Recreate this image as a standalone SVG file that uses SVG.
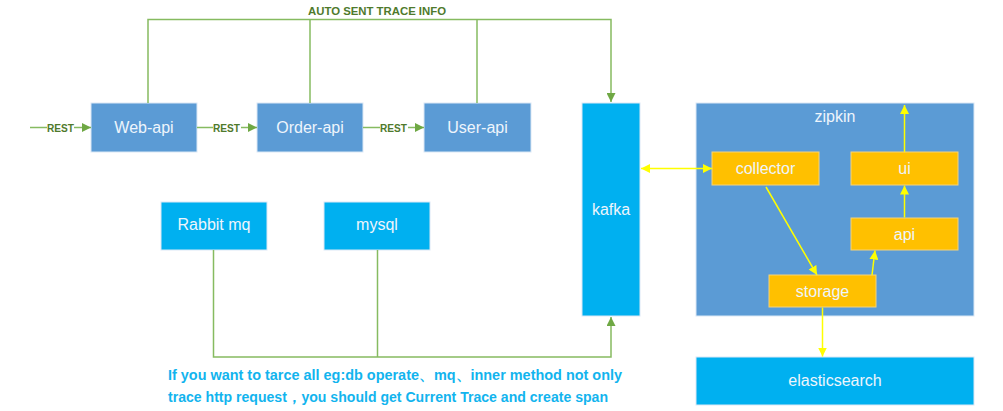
<svg xmlns="http://www.w3.org/2000/svg" width="1003" height="411" viewBox="0 0 1003 411">
<style>
.box{stroke:#dbe8f5;stroke-width:1}
.blue{fill:#5b9bd5}
.cyan{fill:#00b0f0}
.org{fill:#ffc000;stroke:#f5d37a;stroke-width:1}
.lbl{font-family:"Liberation Sans",Arial,sans-serif;font-size:16px;fill:#eef5fc;text-anchor:middle}
.g{fill:none;stroke:#86bb60;stroke-width:1.5}
.y{fill:none;stroke:#ffff00;stroke-width:1.5}
.rest{font-family:"Liberation Sans",Arial,sans-serif;font-size:11px;font-weight:bold;fill:#4f7a2c}
.note{font-family:"Liberation Sans",Arial,sans-serif;font-size:14.5px;font-weight:bold;fill:#12b4ee}
</style>
<defs>
<marker id="gb" viewBox="0 0 10 10" refX="10" refY="5" markerWidth="9" markerHeight="9" orient="auto" markerUnits="userSpaceOnUse">
<path d="M0,0 L10,5 L0,10 z" fill="#6fa844"/>
</marker>
<marker id="ya" viewBox="0 0 10 10" refX="10" refY="5" markerWidth="9" markerHeight="9" orient="auto-start-reverse" markerUnits="userSpaceOnUse">
<path d="M0,0 L10,5 L0,10 z" fill="#ffff00"/>
</marker>
</defs>
<rect width="1003" height="411" fill="#ffffff"/>

<g id="web-api"><rect class="box blue" x="91" y="103" width="106" height="49"/><text class="lbl" x="144" y="133">Web-api</text></g>
<g id="order-api"><rect class="box blue" x="257" y="103" width="106" height="49"/><text class="lbl" x="310" y="133">Order-api</text></g>
<g id="user-api"><rect class="box blue" x="424" y="103" width="107" height="49"/><text class="lbl" x="477.5" y="133">User-api</text></g>
<g id="rabbit-mq"><rect class="box cyan" x="161" y="202" width="106" height="48"/><text class="lbl" x="214" y="230">Rabbit mq</text></g>
<g id="mysql"><rect class="box cyan" x="324" y="202" width="106" height="48"/><text class="lbl" x="377" y="230">mysql</text></g>
<g id="kafka"><rect class="box cyan" x="582" y="103" width="58" height="213"/><text class="lbl" x="611" y="215">kafka</text></g>
<g id="zipkin"><rect class="box blue" x="696" y="103" width="278" height="213"/><text class="lbl" x="835" y="122">zipkin</text></g>
<g id="collector"><rect class="org" x="712" y="152" width="107" height="33"/><text class="lbl" x="765.5" y="174">collector</text></g>
<g id="ui"><rect class="org" x="851" y="152" width="107" height="33"/><text class="lbl" x="904.5" y="174">ui</text></g>
<g id="api"><rect class="org" x="851" y="218" width="107" height="32"/><text class="lbl" x="904.5" y="240">api</text></g>
<g id="storage"><rect class="org" x="769" y="275" width="107" height="32"/><text class="lbl" x="822.5" y="297">storage</text></g>
<g id="elasticsearch"><rect class="box cyan" x="696" y="357" width="278" height="48"/><text class="lbl" x="835" y="386">elasticsearch</text></g>

<g id="connectors">
<polyline class="g" points="148,103 148,19.5 611,19.5 611,102" marker-end="url(#gb)"/>
<line class="g" x1="310" y1="103" x2="310" y2="19.5"/>
<line class="g" x1="477" y1="103" x2="477" y2="19.5"/>
<text class="rest" x="308" y="15" textLength="138" lengthAdjust="spacingAndGlyphs">AUTO SENT TRACE INFO</text>
<line class="g" x1="30" y1="127.5" x2="47" y2="127.5"/>
<text class="rest" x="47" y="131.5" textLength="27" lengthAdjust="spacingAndGlyphs">REST</text>
<line class="g" x1="74" y1="127.5" x2="91" y2="127.5" marker-end="url(#gb)"/>
<line class="g" x1="197" y1="127.5" x2="213" y2="127.5"/>
<text class="rest" x="213" y="131.5" textLength="27" lengthAdjust="spacingAndGlyphs">REST</text>
<line class="g" x1="241" y1="127.5" x2="257" y2="127.5" marker-end="url(#gb)"/>
<line class="g" x1="363" y1="127.5" x2="380" y2="127.5"/>
<text class="rest" x="380" y="131.5" textLength="27" lengthAdjust="spacingAndGlyphs">REST</text>
<line class="g" x1="408" y1="127.5" x2="424" y2="127.5" marker-end="url(#gb)"/>
<polyline class="g" points="213.5,250 213.5,357 611,357 611,317" marker-end="url(#gb)"/>
<line class="g" x1="377.5" y1="250" x2="377.5" y2="357"/>
<line class="y" x1="641" y1="168.5" x2="712" y2="168.5" marker-start="url(#ya)" marker-end="url(#ya)"/>
<line class="y" x1="766" y1="187" x2="817" y2="275" marker-end="url(#ya)"/>
<line class="y" x1="872" y1="275" x2="875" y2="250.5" marker-end="url(#ya)"/>
<line class="y" x1="904.5" y1="217.5" x2="904.5" y2="185.5" marker-end="url(#ya)"/>
<line class="y" x1="904.5" y1="152" x2="904.5" y2="105" marker-end="url(#ya)"/>
<line class="y" x1="822.5" y1="307.5" x2="822.5" y2="356.5" marker-end="url(#ya)"/>
</g>

<g id="note">
<text class="note" x="168" y="380" textLength="454" lengthAdjust="spacingAndGlyphs">If you want to tarce all eg:db operate、mq、inner method not only</text>
<text class="note" x="168" y="402" textLength="440" lengthAdjust="spacingAndGlyphs">trace http request，you should get Current Trace and create span</text>
</g>
</svg>
